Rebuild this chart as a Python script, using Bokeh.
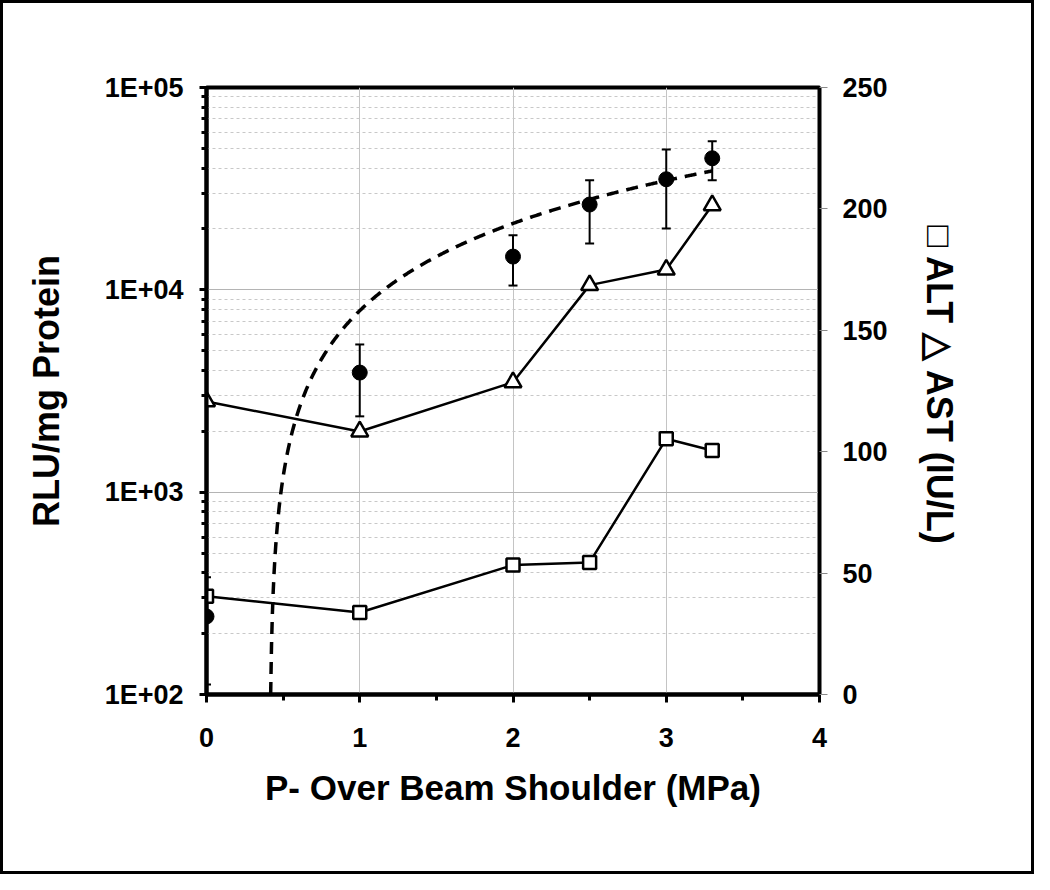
import numpy as np
from bokeh.plotting import figure
from bokeh.models import (Range1d, LinearAxis, LinearScale, FixedTicker, Whisker,
                          TeeHead, ColumnDataSource)
from bokeh.embed import file_html
from bokeh.resources import INLINE

# ---------------- data ----------------
pressure = [0, 1, 2, 2.5, 3, 3.3]
rlu = [243, 3900, 14600, 26400, 35200, 44700]
rlu_upper = [380, 5370, 18600, 34800, 49400, 54200]
rlu_lower = [112, 2370, 10500, 16950, 20100, 34800]
alt = [40.5, 33.8, 53.3, 54.4, 105.3, 100.5]
ast = [120.7, 108.3, 128.6, 168.6, 175.0, 201.5]

x_ticks = [0, 1, 2, 3, 4]
x_minor_ticks = [0.5, 1.5, 2.5, 3.5]
left_ticks = [100, 1000, 10000, 100000]
left_tick_labels = ["1E+02", "1E+03", "1E+04", "1E+05"]
right_ticks = [0, 50, 100, 150, 200, 250]

FONT = "Liberation Sans"

p = figure(x_range=Range1d(0, 4), y_range=Range1d(100, 100000),
           y_axis_type="log", frame_width=613, frame_height=607,
           min_border_left=203, min_border_right=212, min_border_top=84,
           min_border_bottom=177, output_backend="svg", toolbar_location=None,
           background_fill_color="white", border_fill_color="white")
p.styles = {"border": "3px solid black"}

p.outline_line_color = "black"
p.outline_line_width = 4

# grids
p.xgrid.ticker = FixedTicker(ticks=x_ticks)
p.xgrid.grid_line_color = "#c4c4c4"
p.xgrid.grid_line_width = 1
p.ygrid.grid_line_color = "#b4b4b4"
p.ygrid.grid_line_width = 1
p.ygrid.minor_grid_line_color = "#c8c8c8"
p.ygrid.minor_grid_line_dash = "3 3"
p.ygrid.minor_grid_line_width = 1

# bottom axis
xa = p.below[0]
xa.ticker = FixedTicker(ticks=x_ticks, minor_ticks=x_minor_ticks)
xa.axis_label = "P- Over Beam Shoulder (MPa)"
xa.axis_line_width = 4
xa.major_tick_out = 8
xa.major_tick_in = 0
xa.minor_tick_out = 6
xa.minor_tick_in = 0
xa.major_tick_line_width = 3
xa.minor_tick_line_width = 3
xa.major_label_standoff = 25
xa.axis_label_standoff = 18

# left axis
ya = p.left[0]
ya.axis_label = "RLU/mg Protein"
ya.major_label_overrides = dict(zip(left_ticks, left_tick_labels))
ya.axis_line_width = 4
ya.major_tick_out = 7
ya.major_tick_in = 0
ya.minor_tick_out = 5
ya.minor_tick_in = 0
ya.major_tick_line_width = 3
ya.minor_tick_line_width = 3
ya.major_label_standoff = 16
ya.axis_label_standoff = 35

# right axis (linear)
p.extra_y_ranges = {"right": Range1d(0, 250)}
p.extra_y_scales = {"right": LinearScale()}
ra = LinearAxis(y_range_name="right", ticker=FixedTicker(ticks=right_ticks),
                axis_label="\u25a1 ALT  \u25b3 AST (IU/L)")
ra.axis_line_width = 3
ra.major_tick_out = 8
ra.major_tick_in = 0
ra.major_tick_line_color = "#888888"
ra.major_tick_line_width = 1
ra.minor_tick_line_color = None
ra.major_label_standoff = 15
ra.axis_label_standoff = 28
p.add_layout(ra, "right")

for ax in (xa, ya, ra):
    ax.axis_label_text_font = FONT
    ax.axis_label_text_font_style = "bold"
    ax.axis_label_text_color = "black"
    ax.major_label_text_font = FONT
    ax.major_label_text_font_style = "bold"
    ax.major_label_text_font_size = "27px"
    ax.major_label_text_color = "black"
    ax.axis_line_color = "black"
xa.axis_label_text_font_size = "35px"
ya.axis_label_text_font_size = "36px"
ra.axis_label_text_font_size = "36px"

# linear trendline of the RLU data (drawn only where >= axis floor)
coef = np.polyfit(pressure, rlu, 1)
tx = np.linspace(min(pressure), max(pressure), 600)
ty = np.polyval(coef, tx)
mask = ty >= 100
p.line(tx[mask], ty[mask], line_color="black", line_width=3.5,
       line_dash="12 8")

# error bars
src = ColumnDataSource(dict(x=pressure, upper=rlu_upper, lower=rlu_lower))
wh = Whisker(source=src, base="x", upper="upper", lower="lower",
             line_color="black", line_width=2,
             upper_head=TeeHead(size=9, line_width=2, line_color="black"),
             lower_head=TeeHead(size=9, line_width=2, line_color="black"))
p.add_layout(wh)

p.scatter(pressure, rlu, marker="circle", size=15, fill_color="black",
          line_color="black")

# AST triangles
p.line(pressure, ast, y_range_name="right", line_color="black", line_width=2.5)
p.scatter(pressure, ast, y_range_name="right", marker="triangle", size=17,
          fill_color="white", line_color="black", line_width=2.5)

# ALT squares
p.line(pressure, alt, y_range_name="right", line_color="black", line_width=2.5)
p.scatter(pressure, alt, y_range_name="right", marker="square", size=13,
          fill_color="white", line_color="black", line_width=2.5)

open("out.html", "w").write(file_html(p, INLINE))
